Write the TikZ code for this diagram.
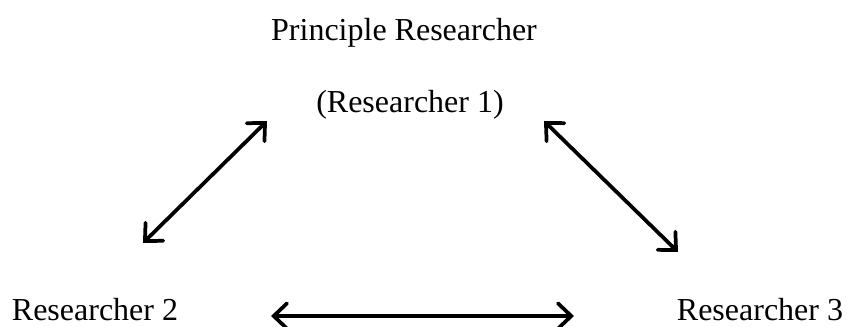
\documentclass[tikz,border=0pt]{standalone}
\usepackage{fontspec}
\setmainfont{Liberation Serif}
\usetikzlibrary{arrows.meta}
\begin{document}
\begin{tikzpicture}[x=0.75pt,y=-0.75pt,
  label/.style={font=\fontsize{24}{28}\selectfont, inner sep=0pt},
  barb/.tip={Straight Barb[length=10pt,width=19pt,line cap=round]},
  link/.style={line width=2.8pt, line cap=round, barb-barb}]
  \useasboundingbox (0,0) rectangle (847,327);
  % role labels
  \node[label, anchor=base] (pr) at (404,41) {Principle Researcher};
  \node[label, anchor=base] (r1) at (410,113) {(Researcher 1)};
  \node[label, anchor=base] (r2) at (95,321) {Researcher 2};
  \node[label, anchor=base] (r3) at (760,321) {Researcher 3};
  % arrow end points
  \coordinate (a1) at (143,243);
  \coordinate (a2) at (267,121);
  \coordinate (b1) at (544,121);
  \coordinate (b2) at (678,252);
  \coordinate (c1) at (271,316);
  \coordinate (c2) at (574,316);
  % two-way links between researchers
  \draw[link] (a1) -- (a2);
  \draw[link] (b1) -- (b2);
  \draw[link] (c1) -- (c2);
\end{tikzpicture}
\end{document}
